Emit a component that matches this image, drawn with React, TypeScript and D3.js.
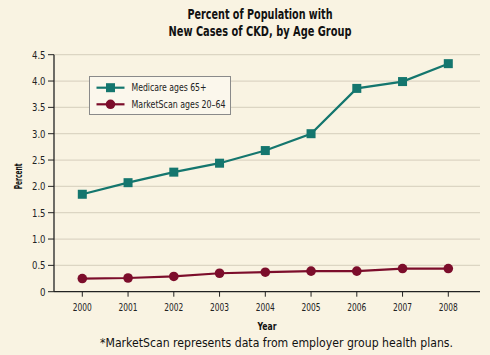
import React from "react";
import * as d3 from "d3";

const years = [2000, 2001, 2002, 2003, 2004, 2005, 2006, 2007, 2008];
const medicare = [1.85, 2.07, 2.27, 2.44, 2.68, 3.0, 3.86, 3.99, 4.33];
const marketscan = [0.25, 0.26, 0.29, 0.35, 0.37, 0.39, 0.39, 0.44, 0.44];
const yTicks = [0, 0.5, 1.0, 1.5, 2.0, 2.5, 3.0, 3.5, 4.0, 4.5];
const seriesNames = ["Medicare ages 65+", "MarketScan ages 20\u201364"];
const titleLines = ["Percent of Population with", "New Cases of CKD, by Age Group"];

const W = 490, H = 355;
const BG = "#f9f3e2";
const TEAL = "#14766e";
const MAROON = "#7c0d2b";
const FONT = "'DejaVu Sans Condensed', 'Liberation Sans Narrow', 'Liberation Sans', sans-serif";

export default function App() {
  const x = d3.scaleLinear().domain([2000, 2008]).range([82.3, 448.3]);
  const y = d3.scaleLinear().domain([0, 4.5]).range([291.7, 54.7]);
  const line = d3.line<number>().x((_, i) => x(years[i])).y((d) => y(d));
  const left = 54, right = 480;
  const titleW = [145, 183];
  return (
    <svg width={W} height={H} style={{ position: "absolute", left: 0, top: 0, background: BG, fontFamily: FONT }}>
      <rect width={W} height={H} fill={BG} />
      {titleLines.map((t, i) => (
        <text key={i} x={260} y={19 + i * 17} textAnchor="middle" fontWeight="bold" fontSize={14} fill="#111"
          textLength={titleW[i]} lengthAdjust="spacingAndGlyphs">{t}</text>
      ))}
      {yTicks.map((t) => (
        <g key={t}>
          {t > 0 && <line x1={left} x2={right} y1={y(t)} y2={y(t)} stroke="#dcd5c3" strokeWidth={1.2} />}
          <line x1={left - 6} x2={left} y1={y(t)} y2={y(t)} stroke="#222" strokeWidth={1} />
          <text x={45.5} y={y(t) + 3.8} textAnchor="end" fontSize={10.5} fill="#222"
            textLength={t === 0 ? 5.5 : 13.5} lengthAdjust="spacingAndGlyphs">{t === 0 ? "0" : t.toFixed(1)}</text>
        </g>
      ))}
      <line x1={left} x2={left} y1={y(4.5)} y2={y(0)} stroke="#222" strokeWidth={1.3} />
      <line x1={left} x2={right} y1={y(0)} y2={y(0)} stroke="#222" strokeWidth={1.3} />
      {years.map((yr) => (
        <g key={yr}>
          <line x1={x(yr)} x2={x(yr)} y1={y(0)} y2={y(0) + 5} stroke="#222" strokeWidth={1} />
          <text x={x(yr)} y={311} textAnchor="middle" fontSize={10.5} fill="#222"
            textLength={19} lengthAdjust="spacingAndGlyphs">{yr}</text>
        </g>
      ))}
      <text x={267} y={330.3} textAnchor="middle" fontWeight="bold" fontSize={10} fill="#111"
        textLength={19} lengthAdjust="spacingAndGlyphs">Year</text>
      <text transform={`translate(22,176.3) rotate(-90)`} textAnchor="middle" fontWeight="bold" fontSize={10} fill="#111"
        textLength={26} lengthAdjust="spacingAndGlyphs">Percent</text>
      <text x={276.5} y={347} textAnchor="middle" fontSize={12} fill="#111"
        textLength={353} lengthAdjust="spacingAndGlyphs">*MarketScan represents data from employer group health plans.</text>

      <path d={line(medicare) || ""} fill="none" stroke={TEAL} strokeWidth={2.2} />
      {medicare.map((v, i) => (
        <rect key={i} x={x(years[i]) - 4.5} y={y(v) - 4.5} width={9} height={9} fill={TEAL} />
      ))}
      <path d={line(marketscan) || ""} fill="none" stroke={MAROON} strokeWidth={2.2} />
      {marketscan.map((v, i) => (
        <circle key={i} cx={x(years[i])} cy={y(v)} r={4.8} fill={MAROON} />
      ))}

      <rect x={89.5} y={76.5} width={141} height={38} fill="#fbf7ec" stroke="#8a8a8a" strokeWidth={1} />
      <line x1={96.5} x2={124.5} y1={87.7} y2={87.7} stroke={TEAL} strokeWidth={2.2} />
      <rect x={106} y={83.2} width={9} height={9} fill={TEAL} />
      <text x={131.5} y={91.3} fontSize={10} fill="#222" textLength={75} lengthAdjust="spacingAndGlyphs">{seriesNames[0]}</text>
      <line x1={96.5} x2={124.5} y1={104.3} y2={104.3} stroke={MAROON} strokeWidth={2.2} />
      <circle cx={110.5} cy={104.3} r={4.8} fill={MAROON} />
      <text x={131.5} y={108} fontSize={10} fill="#222" textLength={94} lengthAdjust="spacingAndGlyphs">{seriesNames[1]}</text>
    </svg>
  );
}
